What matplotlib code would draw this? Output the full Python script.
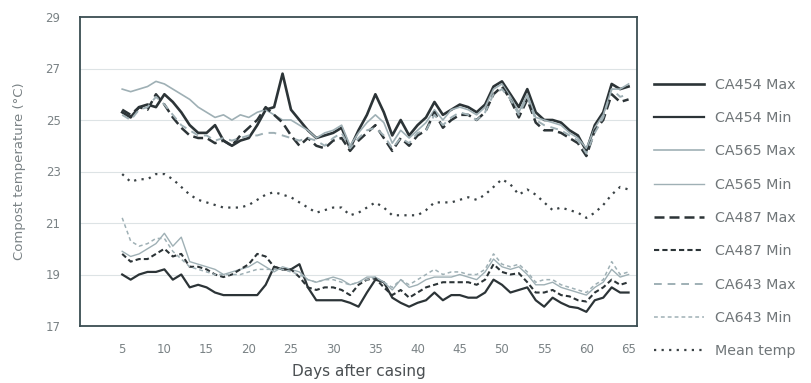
import matplotlib
matplotlib.use("Agg")
import matplotlib.pyplot as plt
import numpy as np

days = list(range(5, 66))

ca454_max = [25.3, 25.1, 25.5, 25.6, 25.5, 26.0, 25.7, 25.3, 24.8, 24.5,
             24.5, 24.8, 24.2, 24.0, 24.2, 24.3, 24.8, 25.4, 25.5, 26.8,
             25.4, 25.0, 24.6, 24.3, 24.4, 24.5, 24.7, 23.9, 24.6, 25.2,
             26.0, 25.3, 24.4, 25.0, 24.4, 24.8, 25.1, 25.7, 25.2, 25.4,
             25.6, 25.5, 25.3, 25.6, 26.3, 26.5, 26.0, 25.5, 26.2, 25.3,
             25.0, 25.0, 24.9, 24.6, 24.4, 23.8, 24.8, 25.3, 26.4, 26.2, 26.3]
ca454_min = [19.0, 18.8, 19.0, 19.1, 19.1, 19.2, 18.8, 19.0, 18.5, 18.6,
             18.5, 18.3, 18.2, 18.2, 18.2, 18.2, 18.2, 18.6, 19.3, 19.2,
             19.2, 19.4, 18.5, 18.0, 18.0, 18.0, 18.0, 17.9, 17.75, 18.3,
             18.8, 18.7, 18.1, 17.9, 17.75, 17.9, 18.0, 18.3, 18.0, 18.2,
             18.2, 18.1, 18.1, 18.3, 18.8, 18.6, 18.3, 18.4, 18.5, 18.0,
             17.75, 18.1, 17.9, 17.75, 17.7, 17.55, 18.0, 18.1, 18.5, 18.3, 18.3]
ca565_max = [26.2, 26.1, 26.2, 26.3, 26.5, 26.4, 26.2, 26.0, 25.8, 25.5,
             25.3, 25.1, 25.2, 25.0, 25.2, 25.1, 25.3, 25.4, 25.2, 25.0,
             25.0, 24.8, 24.6, 24.3, 24.5, 24.6, 24.8, 24.0, 24.5, 24.9,
             25.2, 24.9, 24.1, 24.6, 24.3, 24.6, 24.9, 25.4, 25.0, 25.4,
             25.5, 25.4, 25.2, 25.5, 26.2, 26.4, 25.9, 25.3, 26.0, 25.1,
             25.0, 24.9, 24.8, 24.5, 24.3, 23.9, 24.7, 25.2, 26.2, 26.2, 26.4]
ca565_min = [19.9, 19.7, 19.8, 20.0, 20.2, 20.6, 20.1, 20.45, 19.5, 19.4,
             19.3, 19.2, 19.0, 19.1, 19.2, 19.3, 19.5, 19.3, 19.1, 19.3,
             19.2, 19.1, 18.8, 18.7, 18.8, 18.9, 18.8, 18.6, 18.7, 18.9,
             18.9, 18.7, 18.4, 18.8, 18.5, 18.6, 18.8, 18.9, 18.9, 18.9,
             19.0, 18.9, 18.8, 19.1, 19.6, 19.3, 19.2, 19.3, 19.0, 18.6,
             18.6, 18.7, 18.5, 18.4, 18.3, 18.2, 18.5, 18.7, 19.2, 18.9, 19.0]
ca487_max = [25.4, 25.2, 25.5, 25.4, 26.0, 25.6, 25.1, 24.7, 24.4, 24.3,
             24.3, 24.1, 24.2, 24.0, 24.4, 24.7, 25.0, 25.5, 25.2, 24.9,
             24.4, 24.0, 24.3, 24.0, 23.9, 24.2, 24.3, 23.8, 24.2, 24.5,
             24.8, 24.3, 23.8, 24.3, 24.0, 24.4, 24.6, 25.3, 24.7, 25.0,
             25.2, 25.2, 25.0, 25.3, 26.0, 26.3, 25.8, 25.1, 25.8, 24.9,
             24.6, 24.6, 24.5, 24.3, 24.1, 23.6, 24.6, 25.0, 26.0, 25.7, 25.8]
ca487_min = [19.8, 19.5, 19.6, 19.6, 19.8, 20.0, 19.7, 19.8, 19.3, 19.3,
             19.2, 19.0, 18.9, 19.0, 19.2, 19.4, 19.8, 19.7, 19.3, 19.2,
             19.2, 18.9, 18.5, 18.4, 18.5, 18.5, 18.4, 18.2, 18.6, 18.8,
             18.85, 18.5, 18.2, 18.4, 18.1, 18.3, 18.5, 18.6, 18.7, 18.7,
             18.7, 18.7, 18.6, 18.8, 19.4, 19.1, 19.0, 19.05, 18.7, 18.3,
             18.3, 18.4, 18.2, 18.15, 18.0, 17.95, 18.3, 18.5, 18.8, 18.6, 18.7]
ca643_max = [25.2, 25.0, 25.4, 25.5, 25.9, 25.6, 25.2, 24.8, 24.6, 24.4,
             24.4, 24.2, 24.3, 24.2, 24.3, 24.4, 24.4, 24.5, 24.5, 24.4,
             24.3, 24.2, 24.3, 24.2, 24.0, 24.3, 24.5, 23.9, 24.3, 24.6,
             24.7, 24.4, 23.9, 24.3, 24.1, 24.5, 24.6, 25.2, 24.8, 25.1,
             25.3, 25.2, 25.0, 25.3, 26.0, 26.2, 25.8, 25.2, 25.9, 25.0,
             24.8, 24.7, 24.6, 24.4, 24.2, 23.7, 24.5, 25.1, 26.2, 25.9, 26.0]
ca643_min = [21.2, 20.3, 20.1, 20.2, 20.4, 20.4, 19.9, 19.6, 19.3, 19.2,
             19.1, 19.0, 19.0, 19.0, 19.0, 19.1, 19.2, 19.2, 19.2, 19.2,
             19.1, 19.0, 18.8, 18.7, 18.8, 18.8, 18.7, 18.6, 18.7, 18.8,
             18.9, 18.7, 18.5, 18.8, 18.6, 18.8, 19.0, 19.2, 19.0, 19.1,
             19.1, 19.0, 19.0, 19.2, 19.8, 19.4, 19.3, 19.4, 19.1, 18.7,
             18.8, 18.8, 18.6, 18.5, 18.4, 18.3, 18.6, 18.8, 19.5, 19.0, 19.1]
mean_temp = [22.9, 22.6, 22.7, 22.7, 22.9, 22.9, 22.7, 22.4, 22.1, 21.9,
             21.8, 21.7, 21.6, 21.6, 21.6, 21.7, 21.9, 22.1, 22.2, 22.1,
             22.0, 21.8, 21.6, 21.4, 21.5, 21.6, 21.6, 21.3, 21.4, 21.6,
             21.8, 21.6, 21.3, 21.3, 21.3, 21.3, 21.5, 21.8, 21.8, 21.8,
             21.9, 22.0, 21.9, 22.1, 22.4, 22.7, 22.5, 22.1, 22.3, 22.1,
             21.8, 21.5, 21.6, 21.5, 21.4, 21.2, 21.4, 21.7, 22.1, 22.4, 22.3]

x_ticks = [5, 10, 15, 20, 25, 30, 35, 40, 45, 50, 55, 60, 65]
y_ticks = [17, 19, 21, 23, 25, 27, 29]

dark = "#2c3437"
light = "#9fb0b5"

fig = plt.figure(figsize=(8.12, 3.83), dpi=100)
ax = fig.add_axes([80/812, 1-326/383, (637-80)/812, (326-17)/383])

series = [
    ("CA454 Max", ca454_max, dict(color=dark, lw=1.9, ls="-")),
    ("CA454 Min", ca454_min, dict(color=dark, lw=1.6, ls="-")),
    ("CA565 Max", ca565_max, dict(color=light, lw=1.2, ls="-")),
    ("CA565 Min", ca565_min, dict(color=light, lw=1.0, ls="-")),
    ("CA487 Max", ca487_max, dict(color=dark, lw=1.8, ls=(0, (4, 2)))),
    ("CA487 Min", ca487_min, dict(color=dark, lw=1.5, ls=(0, (2.5, 1.5)))),
    ("CA643 Max", ca643_max, dict(color=light, lw=1.4, ls=(0, (4, 3)))),
    ("CA643 Min", ca643_min, dict(color=light, lw=1.1, ls=(0, (2.5, 2)))),
    ("Mean temp", mean_temp, dict(color="#3a4245", lw=1.6, ls=(0, (1, 2.4)))),
]
for label, vals, st in series:
    ax.plot(days, vals, label=label, **st)

ax.set_xlim(0, 66)
ax.set_ylim(17, 29)
ax.set_xticks(x_ticks)
ax.set_yticks(y_ticks)
for yv in [19, 21, 23, 25, 27]:
    ax.axhline(yv, color="#dde3e5", lw=0.8, zorder=0)
ax.tick_params(axis="x", length=0, labelsize=8.5, colors="#7a8285", pad=12)
ax.tick_params(axis="y", length=0, labelsize=8.5, colors="#7a8285", pad=14)
for sp in ax.spines.values():
    sp.set_color("#3a4d52")
    sp.set_linewidth(1.3)

ax.set_ylabel("Compost temperature (°C)", fontsize=9.5, color="#7a8285", labelpad=14)
ax.set_xlabel("Days after casing", fontsize=11, color="#4a4f52", labelpad=6)

leg = fig.legend(loc="center left", bbox_to_anchor=(641/812, 1-218/383), frameon=False,
                 fontsize=10.3, labelspacing=1.35, handlelength=3.5, handletextpad=0.8,
                 labelcolor="#707679")

fig.savefig("out.png", dpi=100)
